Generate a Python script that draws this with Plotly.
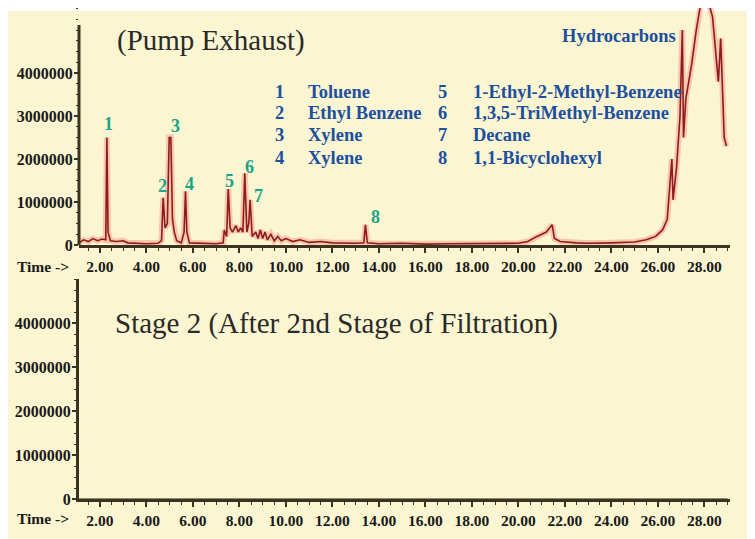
import plotly.graph_objects as go
from plotly.subplots import make_subplots

# ---- data ----
time_top = [1.1, 1.3, 1.5, 1.7, 1.9, 2.1, 2.25, 2.3, 2.35, 2.45, 2.7, 3.0, 3.2, 3.5, 4.0, 4.5,
            4.65, 4.72, 4.8, 4.9, 4.98, 5.05, 5.12, 5.2, 5.3, 5.5, 5.62, 5.68, 5.74, 5.85,
            6.5, 7.0, 7.3, 7.35, 7.45, 7.52, 7.6, 7.7, 7.85, 7.95, 8.05, 8.15, 8.23, 8.32,
            8.4, 8.46, 8.55, 8.7, 8.8, 8.9, 9.0, 9.1, 9.2, 9.35, 9.5, 9.65, 9.8, 10.0, 10.3,
            10.6, 11.0, 11.5, 12.0, 12.5, 13.0, 13.35, 13.42, 13.5, 14.0, 15.0, 16.0, 17.0,
            18.0, 19.0, 20.0, 20.4, 20.8, 21.2, 21.45, 21.55, 21.8, 22.5, 23.0, 24.0, 25.0,
            25.5, 25.9, 26.2, 26.4, 26.5, 26.6, 26.65, 26.8, 26.95, 27.05, 27.1, 27.2, 27.45,
            27.65, 27.9, 28.1, 28.35, 28.6, 28.7, 28.85, 28.95]
abund_top = [0.05, 0.12, 0.08, 0.15, 0.10, 0.14, 0.12, 2.50, 0.30, 0.10, 0.08, 0.10, 0.05, 0.04, 0.03, 0.04,
             0.10, 1.10, 0.40, 0.50, 2.50, 2.50, 0.60, 0.30, 0.10, 0.05, 0.30, 1.25, 0.30, 0.05,
             0.03, 0.03, 0.05, 0.35, 0.20, 1.30, 0.40, 0.30, 0.45, 0.30, 0.40, 0.30, 1.67, 0.30,
             0.50, 1.05, 0.20, 0.30, 0.15, 0.35, 0.15, 0.30, 0.12, 0.25, 0.10, 0.20, 0.10, 0.15, 0.08,
             0.12, 0.06, 0.08, 0.05, 0.04, 0.04, 0.05, 0.47, 0.05, 0.03, 0.04, 0.02, 0.03,
             0.03, 0.03, 0.04, 0.08, 0.20, 0.30, 0.47, 0.15, 0.08, 0.05, 0.04, 0.05, 0.07,
             0.12, 0.20, 0.35, 0.60, 1.30, 2.00, 1.05, 1.80, 3.00, 5.00, 2.50, 3.40, 4.20,
             5.00, 5.80, 5.80, 5.30, 3.80, 4.80, 2.50, 2.30]
abund_top = [v * 1e6 for v in abund_top]

time_bottom = [1.1, 29.0]
abund_bottom = [0, 0]

y_ticks = [0, 1000000, 2000000, 3000000, 4000000]
x_ticks = [2, 4, 6, 8, 10, 12, 14, 16, 18, 20, 22, 24, 26, 28]
x_tick_labels = ["%.2f" % v for v in x_ticks]

peak_ids = ["1", "2", "3", "4", "5", "6", "7", "8"]
peak_lbl_x = [2.38, 4.69, 5.25, 5.85, 7.56, 8.45, 8.84, 13.84]
peak_lbl_y = [2.81e6, 1.37e6, 2.77e6, 1.42e6, 1.49e6, 1.81e6, 1.14e6, 0.65e6]

compounds_left = ["Toluene", "Ethyl Benzene", "Xylene", "Xylene"]
compounds_right = ["1-Ethyl-2-Methyl-Benzene", "1,3,5-TriMethyl-Benzene", "Decane", "1,1-Bicyclohexyl"]

# ---- figure ----
OFF = 8  # page body margin
W, H = 755, 539
ML, MR, MT, MB = 79 - OFF, 755 - (730 - OFF), 0, 539 - (499 - OFF)
PH = H - MT - MB
PW = W - ML - MR

def px(x):
    return (x - OFF - ML) / PW

def py(y):
    return 1 - (y - OFF - MT) / PH

top_dom = [py(245), 1.0]
bot_dom = [0.0, py(279)]
top_range_max = (245 - OFF - MT) / 43.0 * 1e6
top_axis_end = (245 - 25) / 43.0 * 1e6

fig = make_subplots(rows=2, cols=1)
SERIF = "Liberation Serif"
BG = "#FBF6D1"
AX = "#3b3220"
BLUE = "#1d4f9f"
TEAL = "#1ba387"

fig.add_trace(go.Scatter(x=time_top, y=abund_top, mode="lines",
                         line=dict(color="rgba(240,110,110,0.35)", width=6),
                         hoverinfo="skip", showlegend=False), row=1, col=1)
fig.add_trace(go.Scatter(x=time_top, y=abund_top, mode="lines",
                         line=dict(color="#8e1c1c", width=1.6),
                         showlegend=False), row=1, col=1)
fig.add_trace(go.Scatter(x=time_bottom, y=abund_bottom, mode="lines",
                         line=dict(color="#6b6a40", width=1.5),
                         showlegend=False), row=2, col=1)

xr = [1.1, 29.1]
common_x = dict(range=xr, tickvals=x_ticks, ticktext=x_tick_labels,
                showline=True, linecolor=AX, linewidth=3, showgrid=False, zeroline=False,
                ticks="outside", ticklen=5, tickwidth=2, tickcolor=AX,
                minor=dict(ticks="outside", ticklen=3, tickwidth=1, tickcolor=AX, dtick=0.5),
                tickfont=dict(family=SERIF, size=15.5, color="#1a1a1a", weight="bold"),
                domain=[0, 1])
fig.update_xaxes(**common_x, row=1, col=1)
fig.update_xaxes(**common_x, row=2, col=1)

common_y = dict(tickvals=y_ticks, tickformat="d", showgrid=False, zeroline=False,
                ticks="outside", ticklen=4, tickwidth=2, tickcolor=AX, ticklabelstandoff=-2,
                minor=dict(ticks="outside", ticklen=2, tickwidth=1, tickcolor=AX, dtick=250000),
                tickfont=dict(family=SERIF, size=16, color="#1a1a1a", weight="bold"))
fig.update_yaxes(**common_y, showline=False, range=[0, top_range_max], domain=top_dom, row=1, col=1)
fig.update_yaxes(**common_y, showline=True, linecolor=AX, linewidth=3,
                 range=[0, 5.0e6], domain=bot_dom, row=2, col=1)

shapes = [dict(type="rect", xref="paper", yref="paper", x0=px(7), x1=px(770), y0=py(545), y1=py(11),
               fillcolor=BG, line=dict(width=0), layer="below"),
          dict(type="line", xref="x domain", yref="y", x0=0, x1=0, y0=0, y1=top_axis_end,
               line=dict(color=AX, width=3))]

def note(text, x, y, size, color, xanchor="center", weight="normal"):
    return dict(text=text, x=px(x), y=py(y), xref="paper", yref="paper",
                xanchor=xanchor, yanchor="middle", showarrow=False,
                font=dict(family=SERIF, size=size, color=color, weight=weight))

ann = []
ann.append(note("(Pump Exhaust)", 211, 40, 29, "#2a2a2a"))
ann.append(note("Stage 2 (After 2nd Stage of Filtration)", 336, 323, 29, "#2a2a2a"))
ann.append(note("Hydrocarbons", 678, 36, 18.5, BLUE, xanchor="right", weight="bold"))
row_y = [92, 113, 135, 158]
for i in range(4):
    ann.append(note(str(i + 1), 279, row_y[i], 18.5, BLUE, weight="bold"))
    ann.append(note(compounds_left[i], 306, row_y[i], 18.5, BLUE, xanchor="left", weight="bold"))
    ann.append(note(str(i + 5), 443, row_y[i], 18.5, BLUE, weight="bold"))
    ann.append(note(compounds_right[i], 471, row_y[i], 18.5, BLUE, xanchor="left", weight="bold"))
for pid, lx, ly in zip(peak_ids, peak_lbl_x, peak_lbl_y):
    ann.append(dict(text=pid, x=lx, y=ly, xref="x", yref="y", showarrow=False,
                    xanchor="center", yanchor="middle",
                    font=dict(family=SERIF, size=18, color=TEAL, weight="bold")))
for yy in (266, 518):
    ann.append(note("Time ->", 15, yy, 15.5, "#1a1a1a", xanchor="left", weight="bold"))

fig.update_layout(width=W, height=H, margin=dict(l=ML, r=MR, t=MT, b=MB),
                  paper_bgcolor="white", plot_bgcolor="rgba(0,0,0,0)",
                  shapes=shapes, annotations=ann, showlegend=False)

fig.write_html("out.html")
